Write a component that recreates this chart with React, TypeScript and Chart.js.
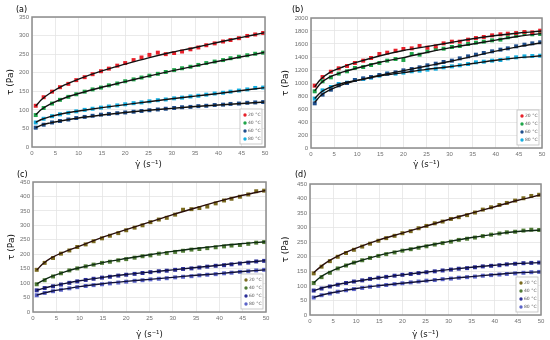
import React, { useEffect, useRef } from "react";
import { Chart, registerables } from "chart.js";
Chart.register(...registerables);

// shear rate (s^-1) of the measured points
const X = [0.8, 2.5, 4.3, 6.0, 7.8, 9.5, 11.3, 13.0, 14.8, 16.5, 18.3, 20.0, 21.8, 23.5, 25.2, 27.0, 28.7, 30.5, 32.2, 34.0, 35.7, 37.4, 39.2, 41.0, 42.6, 44.4, 46.2, 47.9, 49.6];
// shear rate of the fitted-curve nodes
const FIT_X = [0.8, 2, 4, 7, 10, 15, 20, 25, 30, 35, 40, 45, 50];
const LABELS = ["20 °C", "40 °C", "60 °C", "80 °C"];
const X_TICKS = [0, 5, 10, 15, 20, 25, 30, 35, 40, 45, 50];

// (a)
const A20 = [111, 134, 149, 161, 170, 180, 188, 196, 204, 211, 219, 226, 234, 241, 248, 254, 250, 253, 257, 263, 268, 274, 279, 284, 288, 293, 299, 303, 307];
const A40 = [86, 105, 117, 127, 135, 142, 149, 155, 160, 166, 171, 177, 182, 187, 192, 197, 202, 207, 212, 216, 221, 226, 230, 234, 239, 243, 247, 251, 254];
const A60 = [52, 60, 66, 70, 74, 78, 81, 84, 87, 89, 91, 93, 95, 97, 99, 101, 103, 105, 107, 108, 110, 111, 113, 114, 116, 117, 119, 120, 121];
const A80 = [66, 76, 83, 88, 92, 96, 100, 103, 106, 109, 112, 115, 118, 120, 123, 126, 128, 131, 133, 136, 138, 141, 144, 146, 149, 152, 155, 159, 160];
const A20_FIT = [110, 127, 146, 167, 183, 205, 223, 240, 255, 268, 282, 295, 308];
const A40_FIT = [87, 101, 116, 132, 144, 161, 176, 191, 205, 218, 231, 243, 255];
const A60_FIT = [52, 59, 65, 72, 78, 86, 93, 99, 104, 109, 113, 117, 121];
const A80_FIT = [66, 74, 82, 91, 97, 106, 114, 122, 130, 137, 144, 152, 160];

// (b)
const B20 = [959, 1092, 1174, 1226, 1262, 1308, 1344, 1385, 1446, 1467, 1497, 1523, 1533, 1569, 1544, 1564, 1610, 1636, 1636, 1667, 1692, 1708, 1733, 1749, 1759, 1769, 1785, 1779, 1805];
const B40 = [872, 1026, 1087, 1144, 1180, 1231, 1246, 1277, 1308, 1344, 1369, 1354, 1446, 1436, 1487, 1523, 1528, 1554, 1569, 1600, 1621, 1636, 1656, 1667, 1703, 1728, 1769, 1749, 1754];
const B60 = [687, 821, 897, 964, 1000, 1046, 1072, 1092, 1123, 1144, 1164, 1195, 1215, 1241, 1272, 1297, 1323, 1344, 1379, 1410, 1436, 1462, 1487, 1513, 1533, 1564, 1590, 1610, 1626];
const B80 = [759, 887, 938, 985, 1005, 1046, 1062, 1082, 1113, 1144, 1144, 1159, 1180, 1190, 1205, 1220, 1241, 1256, 1272, 1292, 1318, 1328, 1344, 1354, 1379, 1395, 1410, 1415, 1420];
const B20_FIT = [940, 1050, 1160, 1250, 1320, 1420, 1500, 1560, 1620, 1680, 1730, 1770, 1800];
const B40_FIT = [880, 990, 1090, 1170, 1230, 1320, 1390, 1470, 1540, 1600, 1660, 1720, 1760];
const B60_FIT = [700, 800, 890, 980, 1040, 1120, 1190, 1260, 1330, 1410, 1490, 1560, 1620];
const B80_FIT = [760, 850, 930, 1000, 1040, 1110, 1160, 1210, 1250, 1300, 1350, 1390, 1420];

// (c)
const C20 = [146, 170, 187, 202, 213, 225, 234, 245, 255, 264, 273, 283, 292, 300, 311, 320, 326, 337, 354, 356, 360, 365, 376, 386, 392, 399, 407, 418, 420];
const C40 = [96, 110, 123, 134, 144, 151, 158, 164, 170, 174, 179, 183, 188, 193, 196, 202, 204, 208, 212, 216, 218, 221, 224, 227, 230, 232, 236, 240, 242];
const C60 = [75, 83, 89, 95, 101, 106, 111, 115, 119, 122, 126, 129, 132, 135, 138, 141, 143, 146, 149, 151, 154, 157, 160, 162, 165, 168, 171, 175, 177];
const C80 = [58, 66, 72, 77, 82, 86, 90, 93, 96, 99, 102, 105, 108, 110, 113, 115, 117, 120, 122, 124, 127, 129, 131, 134, 136, 139, 141, 144, 146];
const C20_FIT = [145, 165, 188, 210, 228, 259, 285, 311, 337, 361, 384, 404, 421];
const C40_FIT = [97, 108, 123, 140, 153, 171, 185, 198, 210, 220, 229, 237, 243];
const C60_FIT = [75, 81, 89, 99, 108, 120, 130, 138, 146, 154, 162, 171, 178];
const C80_FIT = [58, 64, 72, 80, 88, 98, 106, 113, 120, 127, 133, 140, 146];

// (d)
const D20 = [143, 166, 185, 200, 213, 224, 235, 245, 255, 264, 272, 281, 288, 298, 306, 315, 321, 330, 336, 343, 352, 362, 370, 378, 385, 393, 401, 409, 413];
const D40 = [110, 130, 145, 160, 170, 180, 188, 196, 203, 209, 215, 221, 226, 231, 236, 242, 247, 252, 258, 262, 266, 271, 276, 280, 284, 286, 290, 293, 292];
const D60 = [84, 91, 98, 104, 110, 115, 119, 124, 128, 131, 135, 138, 141, 144, 147, 150, 153, 156, 159, 161, 164, 167, 169, 171, 174, 176, 178, 179, 180];
const D80 = [60, 68, 74, 80, 85, 89, 93, 97, 100, 103, 106, 109, 112, 115, 118, 120, 123, 125, 128, 130, 132, 135, 137, 139, 141, 143, 145, 147, 148];
const D20_FIT = [145, 162, 185, 210, 230, 258, 281, 305, 328, 350, 372, 394, 413];
const D40_FIT = [110, 127, 146, 166, 182, 205, 222, 237, 252, 266, 278, 287, 292];
const D60_FIT = [83, 90, 98, 108, 116, 128, 138, 147, 156, 164, 171, 177, 180];
const D80_FIT = [60, 66, 74, 83, 91, 101, 109, 117, 125, 132, 139, 145, 148];

const COLORS_AB = ["#e8202a", "#1fa54a", "#1f4e8c", "#14aee0"];
const COLORS_CD = ["#7a6a1e", "#4e7a34", "#2b2f99", "#5a63c8"];
const LINES_AB = ["#111111", "#111111", "#111111", "#111111"];
const LINES_CD = ["#2a0f0a", "#0f2a12", "#10103a", "#10103a"];

type PanelCfg = {
  left: number; top: number; tag: string; tagX: number; tagY: number;
  padLeft: number; yW: number; padRight: number; padTop: number; xH: number;
  yMax: number; yStep: number;
  series: number[][]; fits: number[][]; colors: string[]; lines: string[];
};

const PANELS: PanelCfg[] = [
  { left: 0, top: 0, tag: "(a)", tagX: 16, tagY: 10, padLeft: 5, yW: 27, padRight: 10, padTop: 17, xH: 23, yMax: 350, yStep: 50,
    series: [A20, A40, A60, A80], fits: [A20_FIT, A40_FIT, A60_FIT, A80_FIT], colors: COLORS_AB, lines: LINES_AB },
  { left: 275, top: 0, tag: "(b)", tagX: 17, tagY: 10, padLeft: 5, yW: 31, padRight: 8, padTop: 18, xH: 22, yMax: 2000, yStep: 200,
    series: [B20, B40, B60, B80], fits: [B20_FIT, B40_FIT, B60_FIT, B80_FIT], colors: COLORS_AB, lines: LINES_AB },
  { left: 0, top: 170, tag: "(c)", tagX: 17, tagY: 5, padLeft: 6, yW: 27, padRight: 9, padTop: 12, xH: 28, yMax: 450, yStep: 50,
    series: [C20, C40, C60, C80], fits: [C20_FIT, C40_FIT, C60_FIT, C80_FIT], colors: COLORS_CD, lines: LINES_CD },
  { left: 275, top: 170, tag: "(d)", tagX: 20, tagY: 5, padLeft: 5, yW: 30, padRight: 9, padTop: 14, xH: 25, yMax: 450, yStep: 50,
    series: [D20, D40, D60, D80], fits: [D20_FIT, D40_FIT, D60_FIT, D80_FIT], colors: COLORS_CD, lines: LINES_CD },
];

const decor = {
  id: "decor",
  afterDatasetsDraw(chart: any, _args: any, opts: any) {
    const { ctx, chartArea: a } = chart;
    ctx.save();
    // plot frame
    ctx.strokeStyle = "#8c8c8c";
    ctx.lineWidth = 1.5;
    ctx.strokeRect(a.left, a.top, a.right - a.left, a.bottom - a.top);
    // legend box
    const w = 22, h = 35;
    const x0 = a.right - 3 - w, y0 = a.bottom - 3 - h;
    ctx.fillStyle = "#ffffff";
    ctx.fillRect(x0, y0, w, h);
    ctx.strokeStyle = "#bdbdbd";
    ctx.lineWidth = 0.8;
    ctx.strokeRect(x0, y0, w, h);
    ctx.font = '4.5px "DejaVu Sans"';
    ctx.textBaseline = "middle";
    ctx.textAlign = "left";
    LABELS.forEach((lab, i) => {
      const cy = y0 + 6 + i * 8;
      ctx.fillStyle = opts.colors[i];
      ctx.beginPath();
      ctx.arc(x0 + 5, cy, 1.7, 0, Math.PI * 2);
      ctx.fill();
      ctx.fillStyle = "#595959";
      ctx.fillText(lab, x0 + 8, cy);
    });
    // panel tag
    ctx.fillStyle = "#000";
    ctx.font = '8px "DejaVu Sans"';
    ctx.textAlign = "left";
    ctx.textBaseline = "middle";
    ctx.fillText(opts.tag, opts.tagX, opts.tagY);
    ctx.restore();
  },
};

function Panel({ cfg }: { cfg: PanelCfg }) {
  const ref = useRef<HTMLCanvasElement>(null);
  useEffect(() => {
    const datasets: any[] = [];
    cfg.fits.forEach((f, i) => {
      datasets.push({
        label: LABELS[i] + " fit",
        data: FIT_X.map((x, k) => ({ x, y: f[k] })),
        showLine: true,
        pointRadius: 0,
        borderColor: cfg.lines[i],
        borderWidth: 1.4,
        cubicInterpolationMode: "monotone",
        order: 0,
      });
    });
    cfg.series.forEach((s, i) => {
      datasets.push({
        label: LABELS[i],
        data: X.map((x, k) => ({ x, y: s[k] })),
        showLine: false,
        pointStyle: "rect",
        pointRadius: 2.8,
        pointBackgroundColor: cfg.colors[i],
        pointBorderColor: cfg.colors[i],
        pointBorderWidth: 0,
        order: 1,
      });
    });
    const tickFont = { family: '"Liberation Sans"', size: 6 };
    const chart = new Chart(ref.current!, {
      type: "scatter",
      data: { datasets },
      plugins: [decor],
      options: {
        animation: false,
        responsive: false,
        devicePixelRatio: 1,
        layout: { padding: { left: cfg.padLeft, right: cfg.padRight, top: cfg.padTop, bottom: 0 } },
        plugins: {
          legend: { display: false },
          tooltip: { enabled: false },
          decor: { colors: cfg.colors, tag: cfg.tag, tagX: cfg.tagX, tagY: cfg.tagY },
        } as any,
        scales: {
          x: {
            type: "linear",
            min: 0,
            max: 50,
            afterBuildTicks: (s: any) => { s.ticks = X_TICKS.map((v) => ({ value: v })); },
            afterFit: (s: any) => { s.height = cfg.xH; },
            ticks: { font: tickFont, color: "#707070", padding: 3, maxRotation: 0, callback: (v: any) => String(v) },
            grid: { color: "#e4e4e4", drawTicks: false, lineWidth: 0.8 },
            border: { display: false },
            title: { display: true, text: "\u03B3\u0307 (s\u207B\u00B9)", font: { family: '"DejaVu Sans"', size: 8.5 }, color: "#111", padding: 0 },
          },
          y: {
            type: "linear",
            min: 0,
            max: cfg.yMax,
            ticks: { stepSize: cfg.yStep, font: tickFont, color: "#707070", padding: 3, callback: (v: any) => String(v) },
            afterFit: (s: any) => { s.width = cfg.yW; },
            grid: { color: "#e4e4e4", drawTicks: false, lineWidth: 0.8 },
            border: { display: false },
            title: { display: true, text: "\u03C4 (Pa)", font: { family: '"DejaVu Sans"', size: 9 }, color: "#111", padding: 0 },
          },
        },
      },
    });
    return () => chart.destroy();
  }, []);
  return (
    <canvas
      ref={ref}
      width={275}
      height={170}
      style={{ position: "absolute", left: cfg.left, top: cfg.top, width: 275, height: 170 }}
    />
  );
}

export default function App() {
  return (
    <div style={{ position: "absolute", left: 0, top: 0, width: 550, height: 340, background: "#fff" }}>
      {PANELS.map((p) => (
        <Panel key={p.tag} cfg={p} />
      ))}
    </div>
  );
}
